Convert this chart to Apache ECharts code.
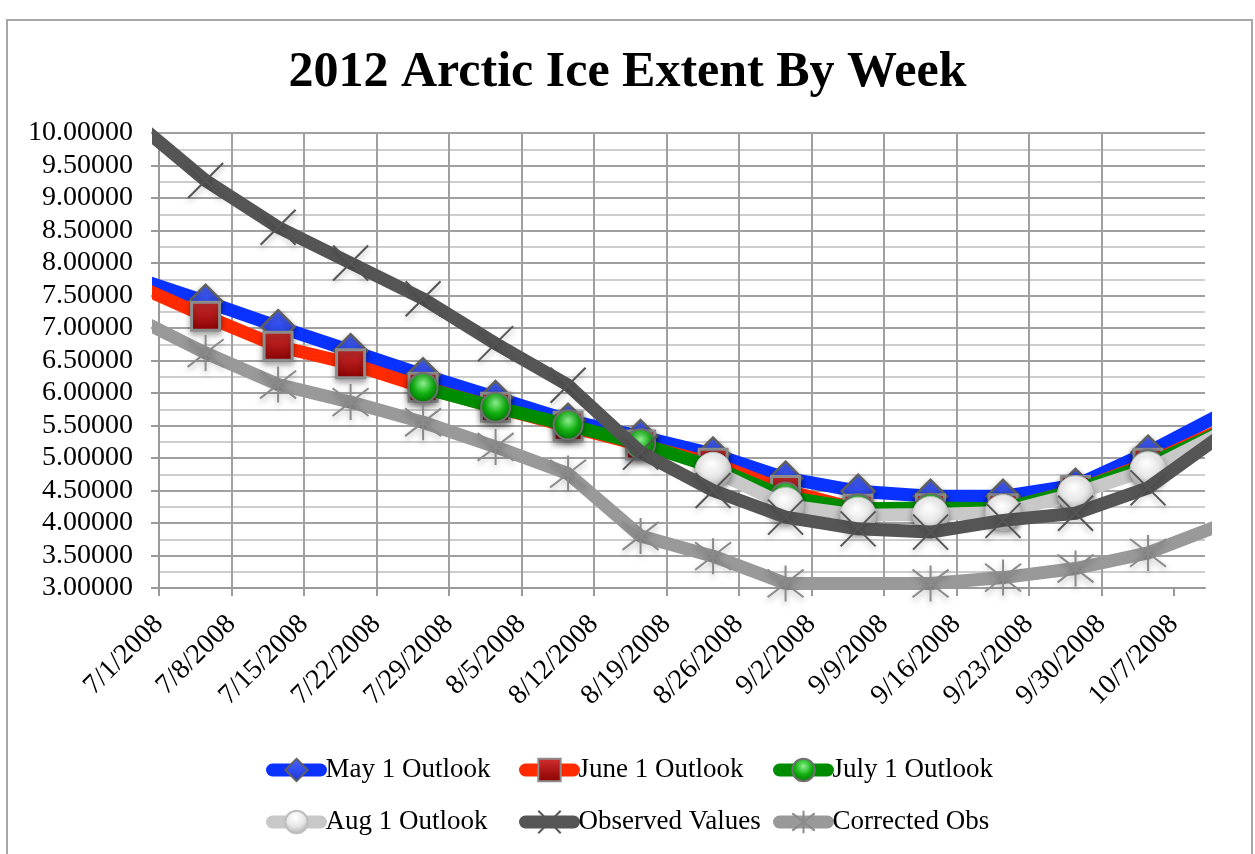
<!DOCTYPE html>
<html>
<head>
<meta charset="utf-8">
<script src="https://cdn.jsdelivr.net/npm/echarts@6/dist/echarts.min.js"></script>
<style>
  html, body { margin: 0; padding: 0; background: #fff; }
  #chart { width: 1255px; height: 854px; }
</style>
</head>
<body>
<div id="chart"></div>
<script>
// Weekly tick labels on the date axis
const tickLabels = ['7/1/2008', '7/8/2008', '7/15/2008', '7/22/2008', '7/29/2008', '8/5/2008',
  '8/12/2008', '8/19/2008', '8/26/2008', '9/2/2008', '9/9/2008', '9/16/2008', '9/23/2008',
  '9/30/2008', '10/7/2008'];
const axisEndDate = '10/10/2008';

// Dates of the weekly values (first and last lie just outside the axis range)
const weekDates = ['6/28/2008', '7/5/2008', '7/12/2008', '7/19/2008', '7/26/2008', '8/2/2008',
  '8/9/2008', '8/16/2008', '8/23/2008', '8/30/2008', '9/6/2008', '9/13/2008', '9/20/2008',
  '9/27/2008', '10/4/2008', '10/11/2008'];

// Ice extent, millions of km²
const may1Outlook = [7.78, 7.41, 7.02, 6.65, 6.28, 5.93, 5.58, 5.33, 5.06, 4.69, 4.49, 4.41, 4.41, 4.58, 5.09, 5.67];
const june1Outlook = [7.68, 7.18, 6.72, 6.45, 6.09, 5.78, 5.49, 5.20, 4.92, 4.50, 4.21, 4.22, 4.22, 4.50, 4.92, 5.43];
const july1Outlook = [null, null, null, null, 6.08, 5.78, 5.51, 5.22, 4.86, 4.40, 4.22, 4.23, 4.22, 4.50, 4.90, 5.40];
const aug1Outlook = [null, null, null, null, null, null, null, null, 4.81, 4.27, 4.12, 4.13, 4.16, 4.45, 4.82, 5.38];
const observedValues = [10.20, 9.27, 8.55, 8.00, 7.45, 6.76, 6.12, 5.09, 4.50, 4.09, 3.91, 3.86, 4.04, 4.15, 4.54, 5.34];
const correctedObs = [7.17, 6.615, 6.13, 5.86, 5.55, 5.17, 4.76, 3.80, 3.49, 3.07, null, 3.07, 3.16, 3.30, 3.54, 3.97];

const DAY = 86400000;
function parseDate(s) {
  const [m, d, y] = s.split('/').map(Number);
  return Date.UTC(y, m - 1, d);
}
const t0 = parseDate(tickLabels[0]);
// each weekly value sits in the middle of its day on the date axis
const dayOf = s => (parseDate(s) - t0) / DAY;
const xDays = weekDates.map(s => dayOf(s) + 0.5);
const tickDays = tickLabels.map(dayOf);
const axisEnd = dayOf(axisEndDate);
function dayLabel(v) {
  const dt = new Date(t0 + Math.round(v) * DAY);
  return (dt.getUTCMonth() + 1) + '/' + dt.getUTCDate() + '/' + dt.getUTCFullYear();
}
const pairs = vals => vals.map((v, i) => [xDays[i], v]);

const FONT = "'Liberation Serif', 'DejaVu Serif', serif";
const shadow = { shadowBlur: 6, shadowColor: 'rgba(0,0,0,0.35)', shadowOffsetY: 3 };

function radial(stops, x, y, r) {
  return { type: 'radial', x: x, y: y, r: r,
    colorStops: stops.map((c, i) => ({ offset: i / (stops.length - 1), color: c })) };
}
function linear(top, bottom) {
  return { type: 'linear', x: 0, y: 0, x2: 0, y2: 1,
    colorStops: [{ offset: 0, color: top }, { offset: 1, color: bottom }] };
}

const seriesDefs = [
  { name: 'May 1 Outlook', data: may1Outlook, lineColor: '#0a32ff', symbol: 'diamond', size: 33,
    item: { color: linear('#4a66ff', '#1a33dd'), borderColor: '#5f5f5f', borderWidth: 2.5 } },
  { name: 'June 1 Outlook', data: june1Outlook, lineColor: '#ff2a00', symbol: 'rect', size: 28,
    item: { color: linear('#d23030', '#8a0000'), borderColor: '#8c8c8c', borderWidth: 3 } },
  { name: 'July 1 Outlook', data: july1Outlook, lineColor: '#008c00', symbol: 'circle', size: 29,
    item: { color: radial(['#8ef08e', '#10b010', '#006a00'], 0.5, 0.35, 0.7), borderColor: '#707070', borderWidth: 2 } },
  { name: 'Aug 1 Outlook', data: aug1Outlook, lineColor: '#c8c8c8', symbol: 'circle', size: 36,
    item: { color: radial(['#ffffff', '#e8e8e8', '#a8a8a8'], 0.45, 0.3, 0.75), borderColor: '#bdbdbd', borderWidth: 1 } },
  { name: 'Observed Values', data: observedValues, lineColor: '#555555', symbol: 'path://M0,0L10,10M10,0L0,10', size: 35,
    item: { color: 'rgba(0,0,0,0)', borderColor: '#555555', borderWidth: 2 } },
  { name: 'Corrected Obs', data: correctedObs, lineColor: '#999999', symbol: 'path://M0,0L10,10M10,0L0,10M5,-1.5L5,11.5', size: 36,
    item: { color: 'rgba(0,0,0,0)', borderColor: '#8a8a8a', borderWidth: 2 } }
];

const series = seriesDefs.map((s, i) => ({
  name: s.name,
  type: 'line',
  z: 10 + i,
  data: pairs(s.data),
  connectNulls: true,
  clip: true,
  symbol: s.symbol,
  symbolSize: s.size,
  showSymbol: true,
  showAllSymbol: true,
  color: s.lineColor,
  lineStyle: { color: s.lineColor, width: 13, join: 'round', cap: 'round' },
  itemStyle: Object.assign({}, s.item, shadow),
  emphasis: { disabled: true }
}));

const legendBase = {
  orient: 'vertical',
  top: 751,
  itemWidth: 48,
  itemHeight: 28,
  itemGap: 24,
  selectedMode: false,
  lineStyle: { width: 13, cap: 'round' },
  textStyle: { fontFamily: FONT, fontSize: 27, color: '#000', lineHeight: 28 }
};

const chart = echarts.init(document.getElementById('chart'), null, { renderer: 'canvas' });
chart.setOption({
  animation: false,
  backgroundColor: '#ffffff',
  title: {
    text: '2012 Arctic Ice Extent By Week',
    left: 'center',
    top: 43,
    textStyle: { fontFamily: FONT, fontWeight: 'bold', fontSize: 50, color: '#000' }
  },
  graphic: [{
    type: 'rect', silent: true, z: 0,
    shape: { x: 7, y: 20, width: 1245, height: 900 },
    style: { fill: 'none', stroke: '#a8a8a8', lineWidth: 2 }
  }],
  legend: [
    Object.assign({}, legendBase, { left: 261, data: ['May 1 Outlook', 'Aug 1 Outlook'] }),
    Object.assign({}, legendBase, { left: 514, data: ['June 1 Outlook', 'Observed Values'] }),
    Object.assign({}, legendBase, { left: 768, data: ['July 1 Outlook', 'Corrected Obs'] })
  ],
  grid: { left: 159, right: 50, top: 133, bottom: 266, containLabel: false },
  xAxis: {
    type: 'value',
    min: 0,
    max: axisEnd,
    interval: 7,
    axisLine: { show: true, lineStyle: { color: '#9a9a9a', width: 2 } },
    axisTick: { show: true, length: 8, customValues: tickDays, lineStyle: { color: '#9a9a9a', width: 2 } },
    axisLabel: {
      customValues: tickDays,
      rotate: 45,
      margin: 32,
      fontFamily: FONT,
      fontSize: 28,
      color: '#000',
      formatter: dayLabel
    },
    splitLine: { show: true, showMaxLine: false, lineStyle: { color: '#a0a0a0', width: 2 } }
  },
  yAxis: {
    type: 'value',
    min: 3,
    max: 10,
    interval: 0.5,
    axisLine: { show: true, lineStyle: { color: '#9a9a9a', width: 2 } },
    axisTick: { show: true, length: 8, lineStyle: { color: '#9a9a9a', width: 2 } },
    minorTick: { show: false, splitNumber: 2 },
    minorSplitLine: { show: true, lineStyle: { color: '#cdcdcd', width: 2 } },
    splitLine: { show: true, lineStyle: { color: '#a0a0a0', width: 2 } },
    axisLabel: {
      margin: 26,
      fontFamily: FONT,
      fontSize: 28,
      color: '#000',
      formatter: v => v.toFixed(5)
    }
  },
  series: series
});
</script>
</body>
</html>
